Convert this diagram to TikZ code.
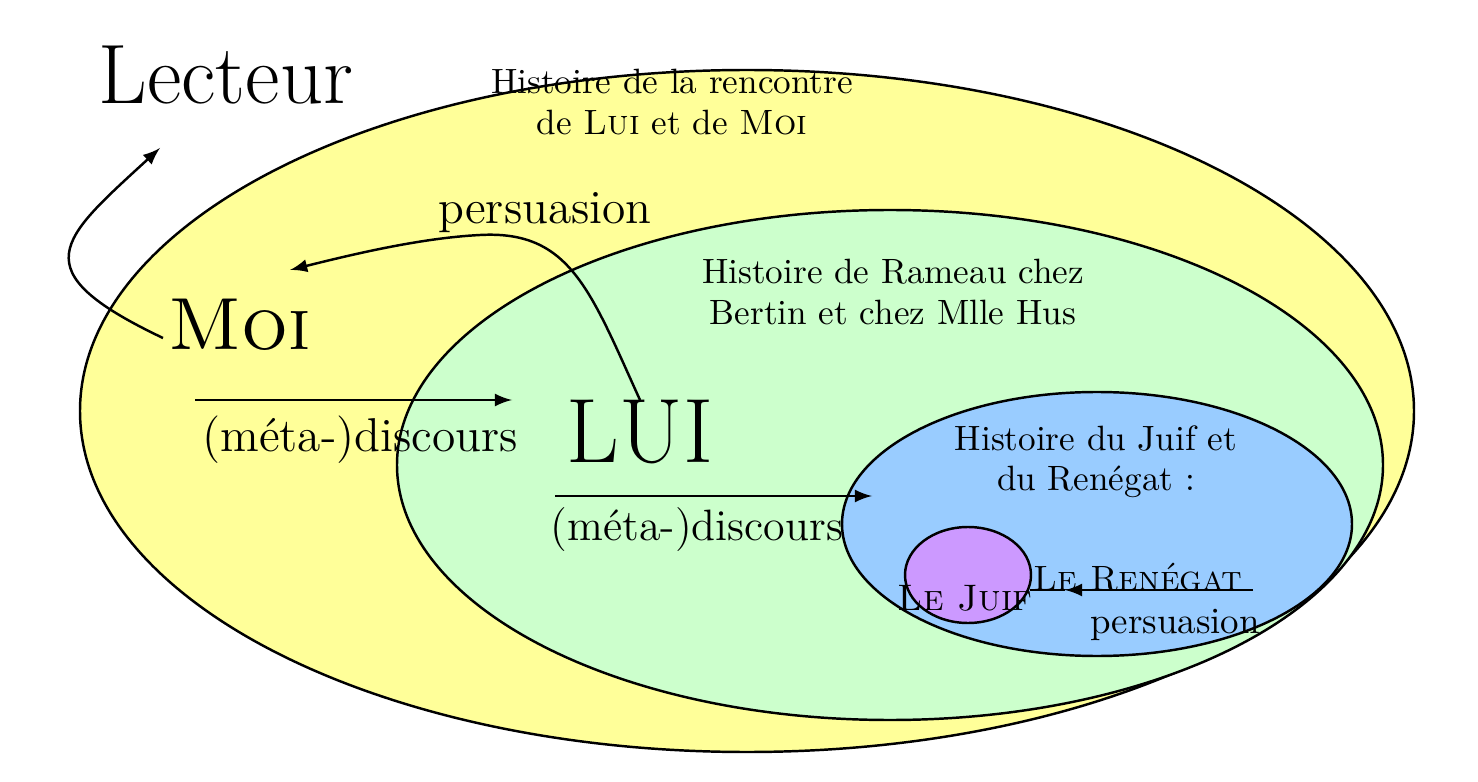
\documentclass[tikz,border=0pt]{standalone}
\usepackage{tikz}
\usetikzlibrary{positioning}
\tikzset{
  zone/.style={draw=black, line width=0.7pt},
  petit/.style={font=\fontsize{10}{11.5}\selectfont, align=center},
  moyen/.style={font=\fontsize{13.5}{15}\selectfont},
  fleche/.style={-latex, line width=0.7pt},
}
\begin{document}
\begin{tikzpicture}[x=0.01cm, y=-0.01cm]
  \useasboundingbox (0,0) rectangle (1478,782);
  % Embedded stories
  \filldraw[zone, fill={rgb,255:red,255;green,255;blue,153}] (747,411) ellipse [x radius=667, y radius=341];
  \filldraw[zone, fill={rgb,255:red,204;green,255;blue,204}] (890,465) ellipse [x radius=493, y radius=255];
  \filldraw[zone, fill={rgb,255:red,153;green,204;blue,255}] (1097,524) ellipse [x radius=255, y radius=132];
  \filldraw[zone, fill={rgb,255:red,204;green,153;blue,255}] (968,575) ellipse [x radius=63, y radius=48];

  % Labels
  \node[font=\fontsize{24}{26}\selectfont] (lecteur) at (226,75) {Lecteur};
  \node[petit] (rencontre) at (672,102) {Histoire de la rencontre\\de \textsc{Lui} et de \textsc{Moi}};
  \node[petit] (rameau) at (893,292) {Histoire de Rameau chez\\Bertin et chez Mlle Hus};
  \node[petit] (juif) at (1096,462) {Histoire du Juif et\\du Ren\'egat :};
  \node[font=\fontsize{21}{23}\selectfont] (moi) at (240,325) {\textsc{Moi}};
  \node[font=\fontsize{26}{28}\selectfont] (lui) at (640,432) {LUI};
  \node[moyen] (persA) at (545,213) {persuasion};
  \node[moyen] (discA) at (360,440) {(m\'eta-)discours};
  \node[font=\fontsize{12.5}{14}\selectfont] (discB) at (697,530) {(m\'eta-)discours};
  \node[font=\fontsize{10.5}{12}\selectfont] (lejuif) at (965,598) {\textsc{Le Juif}};
  \node[font=\fontsize{10}{12}\selectfont] (renegat) at (1138,577) {\textsc{Le Ren\'egat}};
  \node[font=\fontsize{10.5}{12}\selectfont] (persB) at (1175,625) {persuasion};

  \coordinate (lecteurpt) at (160,148);
  \coordinate (moipt) at (163,338);
  \coordinate (luipt) at (640,400);
  \coordinate (moiarr) at (290,270);
  \coordinate (dAs) at (195,400);
  \coordinate (dAe) at (512,400);
  \coordinate (dBs) at (555,496);
  \coordinate (dBe) at (872,496);
  \coordinate (rS) at (1253,590);
  \coordinate (rE) at (1065,590);
  \coordinate (jE) at (1030,590);

  % Connectors
  \draw[fleche] (moipt) .. controls (20,270) and (60,240) .. (lecteurpt);
  \draw[fleche] (luipt) .. controls (590,290) and (570,230) .. (480,235) .. controls (420,238) and (350,255) .. (moiarr);
  \draw[fleche] (dAs) -- (dAe);
  \draw[fleche] (dBs) -- (dBe);
  \draw[fleche] (rS) -- (rE);
  \draw[line width=0.7pt] (rE) -- (jE);
\end{tikzpicture}
\end{document}
